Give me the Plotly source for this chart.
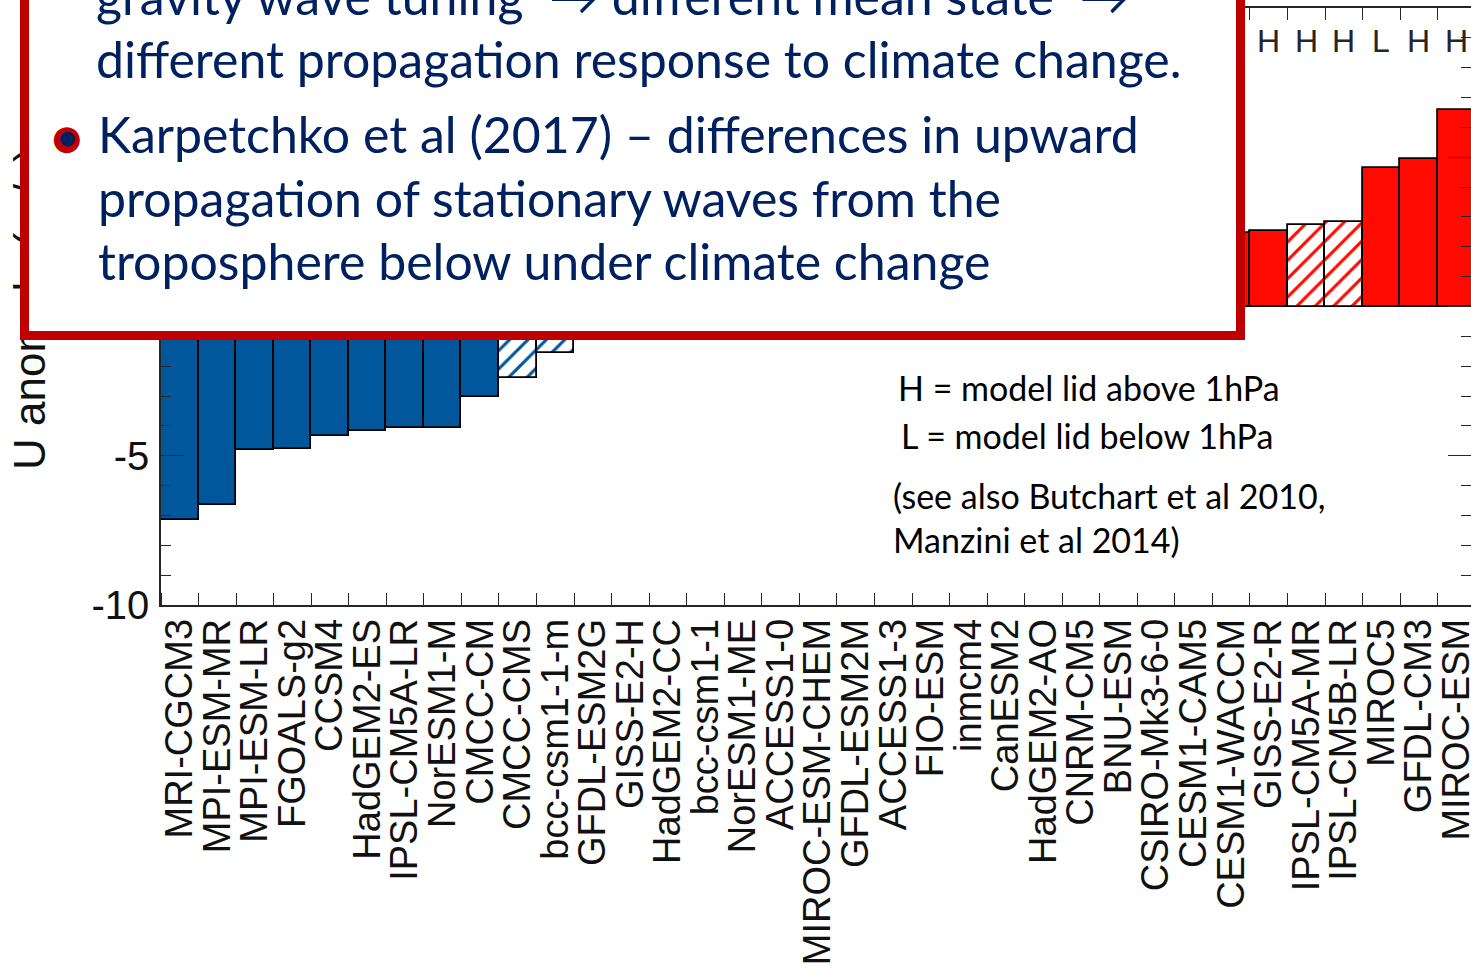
import plotly.graph_objects as go

# ---------------- data ----------------
models = ["MRI-CGCM3", "MPI-ESM-MR", "MPI-ESM-LR", "FGOALS-g2", "CCSM4", "HadGEM2-ES",
          "IPSL-CM5A-LR", "NorESM1-M", "CMCC-CM", "CMCC-CMS", "bcc-csm1-1-m", "GFDL-ESM2G",
          "GISS-E2-H", "HadGEM2-CC", "bcc-csm1-1", "NorESM1-ME", "ACCESS1-0", "MIROC-ESM-CHEM",
          "GFDL-ESM2M", "ACCESS1-3", "FIO-ESM", "inmcm4", "CanESM2", "HadGEM2-AO", "CNRM-CM5",
          "BNU-ESM", "CSIRO-Mk3-6-0", "CESM1-CAM5", "CESM1-WACCM", "GISS-E2-R", "IPSL-CM5A-MR",
          "IPSL-CM5B-LR", "MIROC5", "GFDL-CM3", "MIROC-ESM"]
u_anom = [-7.15, -6.65, -4.81, -4.77, -4.34, -4.17, -4.08, -4.06, -3.02, -2.41, -1.57, -0.9,
          -0.75, -0.6, -0.4, -0.3, -0.15, 0.1, 0.2, 0.35, 0.5, 0.7, 0.9, 1.1, 1.3,
          1.5, 1.8, 2.1, 2.45, 2.54, 2.73, 2.84, 4.63, 4.93, 6.58]
significant = [1, 1, 1, 1, 1, 1, 1, 1, 1, 0, 0, 0, 0, 0, 0, 0, 0, 0, 0, 0, 0, 0, 0, 0, 0,
               0, 1, 1, 1, 1, 0, 0, 1, 1, 1]
lid = ["H", "H", "H", "L", "L", "L", "H", "L", "L", "H", "L", "L", "H", "H", "L", "L", "L",
       "H", "L", "L", "L", "L", "L", "L", "L", "L", "L", "L", "H", "H", "H", "H", "L", "H", "H"]

y_ticks = [-10, -5, 0, 5, 10]
y_ticktext = ["-10", "-5", "0", "5", "10"]

box_lines = [
    "gravity wave tuning  \u2192 different mean state  \u2192",
    "different propagation response to climate change.",
    "Karpetchko et al (2017) \u2013 differences in upward",
    "propagation of stationary waves from the",
    "troposphere below under climate change",
]
note_lines = [
    "H = model lid above 1hPa",
    "L = model lid below 1hPa",
    "(see also Butchart et al 2010,",
    "Manzini et al 2014)",
]

# ---------------- styles ----------------
BLUE = "#00579C"
RED = "#FE0A00"
NAVY = "#002060"
BOXRED = "#C00000"
AX = "#262626"
W, H = 1471, 970
PLOT_L, PLOT_R, PLOT_T, PLOT_B = 161, 1471, 8, 605   # plot area in pixels
L_M, R_M, T_M, B_M = PLOT_L, W - PLOT_R, PLOT_T, H - PLOT_B
PW, PH = PLOT_R - PLOT_L, PLOT_B - PLOT_T
CAT_PX = 37.55
x_hi = -0.5 + PW / CAT_PX


def px_x(px):
    return (px - PLOT_L) / PW


def px_y(py):
    return (PLOT_B - py) / PH


bar_colors, shapes = [], []
for v, s in zip(u_anom, significant):
    bar_colors.append(BLUE if v < 0 else RED)
    shapes.append("" if s else "/")

fig = go.Figure()
fig.add_trace(go.Bar(
    x=list(range(len(models))), y=u_anom, width=1.0,
    marker=dict(color=bar_colors, line=dict(color="black", width=1.8),
                pattern=dict(shape=shapes, bgcolor="white", size=13, solidity=0.24,
                             fillmode="replace")),
    showlegend=False, hoverinfo="skip",
))
fig.add_trace(go.Scatter(x=[None], y=[None], yaxis="y2", showlegend=False, hoverinfo="skip"))

tickfont = dict(family="Liberation Sans, Arial, sans-serif", size=40, color="#111")

fig.update_layout(
    width=W, height=H, margin=dict(l=L_M, r=R_M, t=T_M, b=B_M, pad=0, autoexpand=False),
    paper_bgcolor="white", plot_bgcolor="white", bargap=0,
    xaxis=dict(range=[-0.5, x_hi], tickmode="array", tickvals=list(range(len(models))),
               ticktext=models, tickangle=-90, ticks="", showgrid=False, zeroline=False,
               showline=True, linecolor=AX, linewidth=1.5, mirror="ticks", automargin=False,
               ticklabeloverflow="allow",
               tickfont=dict(family="Liberation Sans, Arial, sans-serif", size=38, color="#111"),
               ticklabelstandoff=-3,
               minor=dict(tickmode="array", tickvals=[i + 0.5 for i in range(-1, len(models))],
                          ticks="inside", ticklen=12, tickcolor=AX, tickwidth=1.3)),
    yaxis=dict(range=[-10, 10], tickmode="array", tickvals=y_ticks, ticktext=y_ticktext,
               ticks="inside", ticklen=22, automargin=False,
               tickcolor=AX, tickwidth=1.3, showline=True, linecolor=AX, linewidth=1.5,
               mirror=False, showgrid=False, zeroline=False, tickfont=tickfont,
               ticklabelstandoff=2,
               minor=dict(dtick=1, tick0=0, ticks="inside", ticklen=10, tickcolor=AX,
                          tickwidth=1.3)),
    yaxis2=dict(range=[-10, 10], overlaying="y", side="right", anchor="x", tickmode="array",
                tickvals=y_ticks, ticks="inside", ticklen=23, tickcolor=AX, tickwidth=1.3,
                showline=False, showgrid=False, zeroline=False, showticklabels=False,
                automargin=False,
                minor=dict(dtick=1, tick0=0, ticks="inside", ticklen=10, tickcolor=AX,
                           tickwidth=1.3)),
)

ann = []
# H / L lid markers (under the box)
for i, t in enumerate(lid):
    ann.append(dict(xref="x", x=i, yref="paper", y=px_y(41), text=t, showarrow=False,
                    xanchor="center", yanchor="middle",
                    font=dict(family="Liberation Sans, Arial, sans-serif", size=32, color=AX)))
# y-axis title (partly hidden by the box)
ann.append(dict(xref="paper", x=px_x(29), yref="paper", y=px_y(309), text="U anomaly (m/s)",
                textangle=-90, showarrow=False, xanchor="center", yanchor="middle",
                font=dict(family="Liberation Sans, Arial, sans-serif", size=44, color="#111")))
# white text box with red border
ann.append(dict(xref="paper", x=px_x(19.5), xanchor="left", yref="paper", y=px_y(340.5),
                yanchor="bottom", width=1207, height=382, text="\u00a0", showarrow=False,
                bgcolor="white", bordercolor=BOXRED, borderwidth=9, borderpad=0))
# box text
BOX_FS = 50
box_font = dict(family="Lato, 'Open Sans', sans-serif", size=BOX_FS, color=NAVY)
box_x = [95, 95, 97, 97, 97]
box_base = [15, 78, 153, 217, 280]
for t, bx, by in zip(box_lines, box_x, box_base):
    ann.append(dict(xref="paper", x=px_x(bx), xanchor="left", yref="paper",
                    y=px_y(by - 0.387 * BOX_FS), yanchor="middle", text=t, showarrow=False,
                    font=box_font, borderpad=0))
# bullet (red ring with navy centre)
ann.append(dict(xref="paper", x=px_x(67), yref="paper", y=px_y(137), text="\u25CF",
                showarrow=False, xanchor="center", yanchor="middle", borderpad=0,
                font=dict(family="DejaVu Sans", size=34, color=BOXRED)))
ann.append(dict(xref="paper", x=px_x(67), yref="paper", y=px_y(137), text="\u25CF",
                showarrow=False, xanchor="center", yanchor="middle", borderpad=0,
                font=dict(family="DejaVu Sans", size=19, color=NAVY)))
# notes in the chart
note_x = [897, 900, 892, 892]
note_y = [387, 435, 495, 539]
for t, nx, ny in zip(note_lines, note_x, note_y):
    ann.append(dict(xref="paper", x=px_x(nx), xanchor="left", yref="paper", y=px_y(ny),
                    yanchor="middle", text=t, showarrow=False, borderpad=0,
                    font=dict(family="Lato, 'Open Sans', sans-serif", size=34, color="black")))

fig.update_layout(annotations=ann)
# place the figure at the page origin (no default body margin, no scrollbars), hide modebar
fig.write_html("out.html", config={"displayModeBar": False},
               post_script="document.body.style.margin='0px';document.body.style.overflow='hidden';")
